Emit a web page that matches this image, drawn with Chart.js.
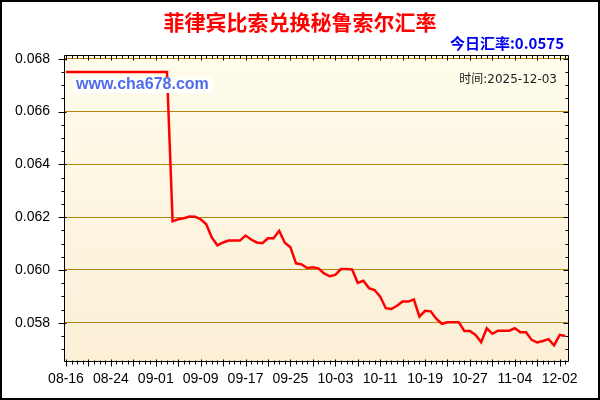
<!DOCTYPE html>
<html>
<head>
<meta charset="utf-8">
<title>菲律宾比索兑换秘鲁索尔汇率</title>
<script src="https://cdn.jsdelivr.net/npm/chart.js@4/dist/chart.umd.min.js"></script>
<style>
  html, body { margin: 0; padding: 0; background: #fff; }
  #wrap { width: 600px; height: 400px; }
</style>
</head>
<body>
<div id="wrap"><canvas id="rate-chart" width="600" height="400"></canvas></div>
<script>
// Dates, one per data point (labels only every 8th point)
const dates = [
  '08-16', '08-17', '08-18', '08-19', '08-20', '08-21', '08-22', '08-23',
  '08-24', '08-25', '08-26', '08-27', '08-28', '08-29', '08-30', '08-31',
  '09-01', '09-02', '09-03', '09-04', '09-05', '09-06', '09-07', '09-08',
  '09-09', '09-10', '09-11', '09-12', '09-13', '09-14', '09-15', '09-16',
  '09-17', '09-18', '09-19', '09-20', '09-21', '09-22', '09-23', '09-24',
  '09-25', '09-26', '09-27', '09-28', '09-29', '09-30', '10-01', '10-02',
  '10-03', '10-04', '10-05', '10-06', '10-07', '10-08', '10-09', '10-10',
  '10-11', '10-12', '10-13', '10-14', '10-15', '10-16', '10-17', '10-18',
  '10-19', '10-20', '10-21', '10-22', '10-23', '10-24', '10-25', '10-26',
  '10-27', '10-28', '10-29', '10-30', '10-31', '11-01', '11-02', '11-03',
  '11-04', '11-05', '11-06', '11-07', '11-08', '11-09', '11-10', '11-11',
  '12-02', '12-03'
];

// PHP -> PEN rate per point
const rates = [
  0.0675, 0.0675, 0.0675, 0.0675, 0.0675, 0.0675, 0.0675, 0.0675,
  0.0675, 0.0675, 0.0675, 0.0675, 0.0675, 0.0675, 0.0675, 0.0675,
  0.0675, 0.0675, 0.0675, 0.06184, 0.06192, 0.06196, 0.06202, 0.06201,
  0.06192, 0.06173, 0.06122, 0.06093, 0.06104, 0.06111, 0.06111, 0.06111,
  0.0613, 0.06115, 0.06104, 0.06101, 0.0612, 0.0612, 0.06148, 0.06103,
  0.06086, 0.06025, 0.06021, 0.06007, 0.0601, 0.06006, 0.05987, 0.05976,
  0.05981, 0.06003, 0.06003, 0.06002, 0.05951, 0.05959, 0.05931, 0.05924,
  0.05899, 0.05855, 0.05852, 0.05864, 0.0588, 0.0588, 0.05888, 0.05823,
  0.05845, 0.05843, 0.05815, 0.05796, 0.05802, 0.05802, 0.05802, 0.05769,
  0.05769, 0.05754, 0.05726, 0.05779, 0.05758, 0.0577, 0.0577, 0.0577,
  0.05779, 0.05764, 0.05764, 0.05735, 0.05725, 0.05731, 0.05738, 0.05714,
  0.05754, 0.0575
];

// Y ticks every 0.0005, labelled every 0.002
const yTicks = [
  0.0570, 0.0575, 0.0580, 0.0585, 0.0590, 0.0595, 0.0600, 0.0605,
  0.0610, 0.0615, 0.0620, 0.0625, 0.0630, 0.0635, 0.0640, 0.0645,
  0.0650, 0.0655, 0.0660, 0.0665, 0.0670, 0.0675, 0.0680
];

const titleText = '菲律宾比索兑换秘鲁索尔汇率';
const todayText = '今日汇率:0.0575';
const timeText = '时间:2025-12-03';
const siteText = 'www.cha678.com';

const GOLD = '#B8860B';

function isMajorY(v) {
  return Math.round(v * 10000) % 20 === 0;
}

/**
 * Plot background gradient + page frame
 */
const backgroundPlugin = {
  id: 'plotBackground',
  beforeDraw(chart) {
    const { ctx, chartArea: a } = chart;
    ctx.save();
    const g = ctx.createLinearGradient(0, a.top, 0, a.bottom);
    g.addColorStop(0, '#FFFCEC');
    g.addColorStop(1, '#FBEFD6');
    ctx.fillStyle = g;
    ctx.fillRect(a.left, a.top, a.right - a.left, a.bottom - a.top);
    ctx.restore();
  }
};

/**
 * Frame, tick marks and all the text around the plot
 */
const decorPlugin = {
  id: 'decor',
  afterDatasetsDraw(chart) {
    const { ctx, chartArea: a } = chart;
    const xs = chart.scales.x;
    const ys = chart.scales.y;
    const L = Math.round(a.left) + 0.5;
    const R = Math.round(a.right) + 0.5;
    const T = Math.round(a.top) + 0.5;
    const B = Math.round(a.bottom) + 0.5;

    ctx.save();

    // watermark with white box (covers the line)
    ctx.fillStyle = 'rgba(255,255,255,0.95)';
    ctx.fillRect(a.left + 9, a.top + 22, 140, 16);
    ctx.font = 'bold 16px "Liberation Sans", Arial, sans-serif';
    ctx.fillStyle = '#4E6CEB';
    ctx.textAlign = 'left';
    ctx.textBaseline = 'middle';
    ctx.fillText(siteText, a.left + 12, a.top + 30);

    // time stamp
    ctx.font = '12px "DejaVu Sans", "Noto Sans CJK SC", sans-serif';
    ctx.fillStyle = '#222';
    ctx.textAlign = 'right';
    ctx.fillText(timeText, a.right - 11, a.top + 25);

    // frame
    ctx.strokeStyle = '#000';
    ctx.lineWidth = 1;
    ctx.beginPath();
    ctx.rect(L, T, R - L, B - T);

    // y ticks (left outward, right inward)
    yTicks.forEach(v => {
      const py = Math.round(ys.getPixelForValue(v)) + 0.5;
      if (py < T || py > B) return;
      const major = isMajorY(v);
      ctx.moveTo(L - (major ? 6 : 3), py);
      ctx.lineTo(L + (major ? 2 : 0), py);
      ctx.moveTo(R, py);
      ctx.lineTo(R - (major ? 5 : 3), py);
    });

    // x ticks (bottom outward, top inward)
    dates.forEach((d, i) => {
      const px = Math.round(xs.getPixelForValue(i)) + 0.5;
      const major = i % 4 === 0;
      ctx.moveTo(px, B - (major ? 2 : 1));
      ctx.lineTo(px, B + (major ? 5 : 3));
      ctx.moveTo(px, T);
      ctx.lineTo(px, T + (major ? 5 : 3));
    });
    ctx.stroke();

    // titles
    ctx.textAlign = 'center';
    ctx.font = 'bold 21px "Noto Sans CJK SC", sans-serif';
    ctx.fillStyle = '#FF0000';
    ctx.fillText(titleText, 300, 22);

    ctx.textAlign = 'right';
    ctx.font = 'bold 15px "Noto Sans CJK SC", sans-serif';
    ctx.fillStyle = '#0000F0';
    ctx.fillText(todayText, 564, 43);

    // outer border
    ctx.lineWidth = 2;
    ctx.strokeRect(1, 1, chart.width - 2, chart.height - 2);
    ctx.restore();
  }
};

const ctx = document.getElementById('rate-chart').getContext('2d');
const chart = new Chart(ctx, {
  type: 'line',
  data: {
    datasets: [{
      label: 'rate',
      data: rates.map((v, i) => ({ x: i, y: v })),
      borderColor: '#FF0000',
      borderWidth: 2.5,
      pointRadius: 0,
      tension: 0,
      fill: false
    }]
  },
  options: {
    responsive: false,
    animation: false,
    devicePixelRatio: 1,
    layout: { padding: { top: 55, right: 32, bottom: 0, left: 0 } },
    plugins: {
      legend: { display: false },
      tooltip: { enabled: false },
      title: { display: false }
    },
    scales: {
      x: {
        type: 'linear',
        min: -0.357,
        max: 89.48,
        afterFit: s => { s.height = 39; },
        afterBuildTicks: s => { s.ticks = dates.map((d, i) => ({ value: i })); },
        grid: { display: false, drawTicks: false },
        border: { display: false },
        ticks: {
          autoSkip: false,
          maxRotation: 0,
          padding: 10,
          color: '#000',
          font: { family: '"Liberation Sans", Arial, sans-serif', size: 14 },
          callback: v => (v % 8 === 0 ? dates[v] : '')
        }
      },
      y: {
        type: 'linear',
        min: 0.05655,
        max: 0.06814,
        afterFit: s => { s.width = 64; },
        afterBuildTicks: s => { s.ticks = yTicks.map(v => ({ value: v })); },
        grid: {
          drawTicks: false,
          color: c => (c.tick && isMajorY(c.tick.value) ? GOLD : 'rgba(0,0,0,0)'),
          lineWidth: 1
        },
        border: { display: false },
        ticks: {
          padding: 14,
          color: '#000',
          font: { family: '"Liberation Sans", Arial, sans-serif', size: 14 },
          callback: v => (isMajorY(v) ? v.toFixed(3) : '')
        }
      }
    }
  },
  plugins: [backgroundPlugin, decorPlugin]
});
</script>
</body>
</html>
